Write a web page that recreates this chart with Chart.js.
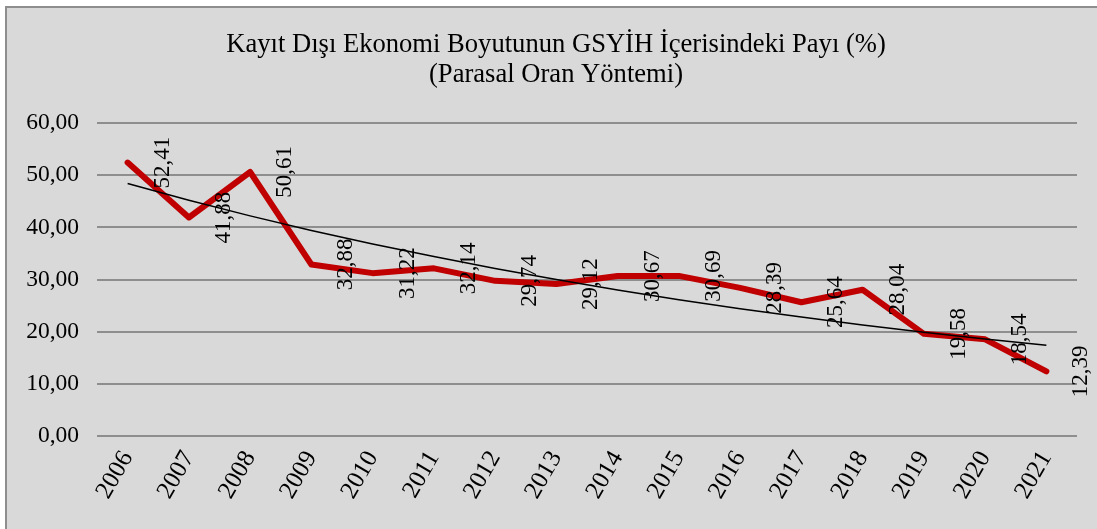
<!DOCTYPE html>
<html>
<head>
<meta charset="utf-8">
<script src="https://cdn.jsdelivr.net/npm/chart.js@4/dist/chart.umd.min.js"></script>
<style>
  html, body { margin: 0; padding: 0; background: #fff; overflow: hidden; }
  #frame {
    position: absolute; left: 5px; top: 6px; width: 1140px; height: 620px;
    background: #d9d9d9; border: 2px solid #8e8e8e;
  }
  #chart { position: absolute; left: 0; top: 0; }
</style>
</head>
<body>
<div id="frame"></div>
<canvas id="chart" width="1097" height="529"></canvas>
<script>
'use strict';

const years = ['2006', '2007', '2008', '2009', '2010', '2011', '2012', '2013',
               '2014', '2015', '2016', '2017', '2018', '2019', '2020', '2021'];
const shareValues = [52.41, 41.88, 50.61, 32.88, 31.22, 32.14, 29.74, 29.12,
                     30.67, 30.69, 28.39, 25.64, 28.04, 19.58, 18.54, 12.39];
// trend line
const trendValues = [48.4, 45.2, 42.2, 39.4, 36.8, 34.4, 32.1, 30.0,
                     28.0, 26.1, 24.4, 22.8, 21.3, 19.9, 18.6, 17.4];
const titleLines = ['Kayıt Dışı Ekonomi Boyutunun GSYİH İçerisindeki Payı (%)',
                    '(Parasal Oran Yöntemi)'];

const SERIF = "'Liberation Serif', 'Times New Roman', serif";
const fmt = v => v.toFixed(2).replace('.', ',');

// two-line title, centred on the whole frame rather than the chart box
const frameTitle = {
  id: 'frameTitle',
  afterDraw(chart) {
    const ctx = chart.ctx;
    ctx.save();
    ctx.font = '26.6px ' + SERIF;
    ctx.fillStyle = '#000';
    ctx.textAlign = 'center';
    ctx.textBaseline = 'middle';
    titleLines.forEach((line, i) => ctx.fillText(line, 556, 45 + i * 30));
    ctx.restore();
  }
};

// vertical value labels, to the right of each point
const valueLabels = {
  id: 'valueLabels',
  afterDatasetsDraw(chart) {
    const ctx = chart.ctx;
    const meta = chart.getDatasetMeta(0);
    ctx.save();
    ctx.font = '23px ' + SERIF;
    ctx.fillStyle = '#000';
    ctx.textAlign = 'center';
    ctx.textBaseline = 'middle';
    meta.data.forEach((pt, i) => {
      ctx.save();
      ctx.translate(pt.x + 35, pt.y);
      ctx.rotate(-Math.PI / 2);
      ctx.fillText(fmt(shareValues[i]), 0, 0);
      ctx.restore();
    });
    ctx.restore();
  }
};

new Chart(document.getElementById('chart'), {
  type: 'line',
  data: {
    labels: years,
    datasets: [
      { data: shareValues, borderColor: '#c00000', borderWidth: 6, pointRadius: 0,
        tension: 0, borderJoinStyle: 'round', borderCapStyle: 'round', order: 1 },
      { data: trendValues, borderColor: '#000', borderWidth: 1.5, pointRadius: 0,
        tension: 0, order: 0 }
    ]
  },
  options: {
    responsive: false,
    animation: false,
    layout: { padding: { top: 123, left: 15, right: 20, bottom: 0 } },
    plugins: {
      legend: { display: false },
      tooltip: { enabled: false },
      title: { display: false }
    },
    scales: {
      x: {
        offset: true,
        grid: { display: false },
        border: { display: false },
        ticks: { color: '#000', font: { family: SERIF, size: 25 }, minRotation: 60, maxRotation: 60, padding: 2 },
        afterFit: s => { s.height = 93; }
      },
      y: {
        min: 0, max: 60,
        grid: { color: '#8e8e8e', lineWidth: 2, drawTicks: false },
        border: { display: false },
        ticks: { stepSize: 10, color: '#000', font: { family: SERIF, size: 23.5 }, padding: 18, callback: v => fmt(v) },
        afterFit: s => { s.width = 82; }
      }
    }
  },
  plugins: [valueLabels, frameTitle]
});
</script>
</body>
</html>
